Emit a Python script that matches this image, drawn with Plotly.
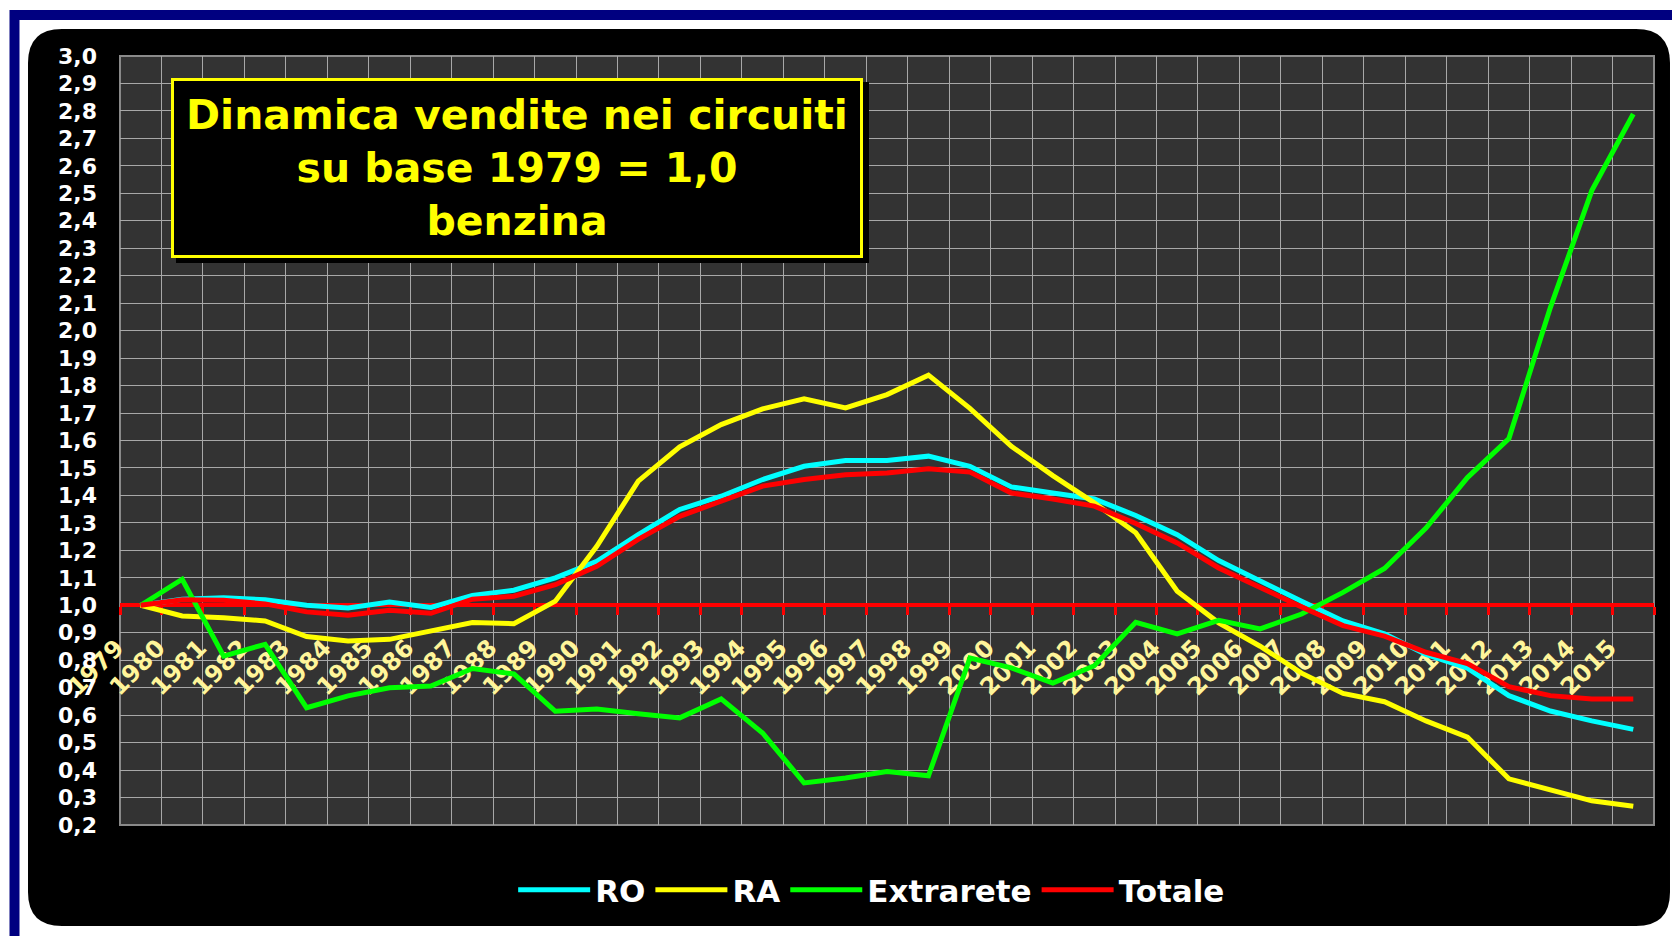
import plotly.graph_objects as go

anni = [str(a) for a in range(1979, 2016)]

ro = [1.00, 1.022, 1.027, 1.02, 1.00, 0.99, 1.012, 0.992, 1.036, 1.055,
      1.10, 1.16, 1.257, 1.349, 1.397, 1.458, 1.506, 1.527, 1.527, 1.543,
      1.506, 1.431, 1.409, 1.387, 1.327, 1.257, 1.163, 1.087, 1.015, 0.943,
      0.896, 0.821, 0.771, 0.671, 0.615, 0.579, 0.548]
ra = [1.00, 0.961, 0.955, 0.943, 0.886, 0.87, 0.876, 0.906, 0.937, 0.933,
      1.015, 1.215, 1.452, 1.577, 1.658, 1.715, 1.752, 1.719, 1.767, 1.838,
      1.717, 1.579, 1.472, 1.373, 1.264, 1.051, 0.936, 0.851, 0.753, 0.679,
      0.649, 0.579, 0.52, 0.368, 0.326, 0.288, 0.268]
extrarete = [1.00, 1.095, 0.815, 0.858, 0.627, 0.67, 0.70, 0.706, 0.77, 0.75,
             0.614, 0.622, 0.605, 0.59, 0.659, 0.535, 0.353, 0.371, 0.395, 0.379,
             0.808, 0.772, 0.717, 0.78, 0.938, 0.896, 0.945, 0.914, 0.968, 1.047,
             1.134, 1.281, 1.465, 1.607, 2.084, 2.51, 2.789]
totale = [1.00, 1.02, 1.018, 1.005, 0.976, 0.964, 0.982, 0.971, 1.022, 1.033,
          1.075, 1.142, 1.24, 1.324, 1.379, 1.434, 1.458, 1.475, 1.482, 1.497,
          1.485, 1.409, 1.387, 1.361, 1.298, 1.227, 1.136, 1.063, 0.994, 0.926,
          0.888, 0.829, 0.788, 0.704, 0.671, 0.659, 0.659]

serie = [("RO", ro, "#00ffff"), ("RA", ra, "#ffff00"),
         ("Extrarete", extrarete, "#00ff00"), ("Totale", totale, "#ff0000")]

W, H = 1672, 936
L, R, T, B = 120, 1654, 56, 825
ymin, ymax = 0.2, 3.0


def px(x):
    return (x - L) / (R - L)


def py(y):
    return (B - y) / (B - T)


def rounded(x0, y0, x1, y1, r):
    # rettangolo arrotondato in coordinate paper
    pts = [
        ("M", x0 + r, y0), ("L", x1 - r, y0), ("Q", x1, y0, x1, y0 + r),
        ("L", x1, y1 - r), ("Q", x1, y1, x1 - r, y1), ("L", x0 + r, y1),
        ("Q", x0, y1, x0, y1 - r), ("L", x0, y0 + r), ("Q", x0, y0, x0 + r, y0),
    ]
    s = ""
    for p in pts:
        nums = p[1:]
        coords = [f"{px(nums[i]):.5f},{py(nums[i + 1]):.5f}"
                  for i in range(0, len(nums), 2)]
        s += p[0] + " ".join(coords) + " "
    return s + "Z"


fig = go.Figure()
for nome, val, col in serie:
    fig.add_trace(go.Scatter(x=anni, y=val, name=nome, mode="lines",
                             line=dict(color=col, width=5)))

font = "DejaVu Sans, Verdana, sans-serif"
shapes = [
    # cornice blu
    dict(type="rect", xref="paper", yref="paper", layer="below",
         x0=px(14.5), y0=py(15), x1=px(1720), y1=py(990),
         line=dict(color="#000080", width=10), fillcolor="rgba(0,0,0,0)"),
    # pannello nero
    dict(type="path", xref="paper", yref="paper", layer="below",
         path=rounded(28, 29, 1670, 926, 34), fillcolor="#000000",
         line=dict(width=0)),
    # area del grafico
    dict(type="rect", xref="paper", yref="paper", layer="below",
         x0=0, y0=0, x1=1, y1=1, fillcolor="#333333",
         line=dict(color="#8a8a8a", width=2)),
    # ombra del riquadro titolo
    dict(type="rect", xref="paper", yref="paper", layer="above",
         x0=px(176), y0=py(263), x1=px(869), y1=py(82),
         fillcolor="#000000", line=dict(width=0)),
]

fig.update_layout(
    width=W, height=H,
    margin=dict(l=L, r=W - R, t=T, b=H - B),
    paper_bgcolor="#ffffff",
    plot_bgcolor="rgba(0,0,0,0)",
    separators=",.",
    shapes=shapes,
    showlegend=True,
    legend=dict(orientation="h", x=0.49, xanchor="center", y=py(890),
                yanchor="middle", bgcolor="rgba(0,0,0,0)", itemwidth=72,
                font=dict(family=font, size=31, color="#ffffff", weight="bold")),
    annotations=[dict(
        text="Dinamica vendite nei circuiti<br>su base 1979 = 1,0<br>benzina",
        xref="paper", yref="paper", x=px(517), y=py(167.5),
        xanchor="center", yanchor="middle", showarrow=False,
        width=682, height=170, align="center",
        bgcolor="#000000", bordercolor="#ffff00", borderwidth=3, borderpad=2,
        font=dict(family=font, size=41, color="#ffff00", weight="bold"),
    )],
)

fig.update_xaxes(
    type="category", range=[-0.5, len(anni) - 0.5],
    anchor="free", position=(1.0 - ymin) / (ymax - ymin),
    tickson="boundaries", showgrid=True, gridcolor="#a8a8a8", gridwidth=1.3,
    showline=True, linecolor="#ff0000", linewidth=4,
    ticks="outside", ticklen=8, tickwidth=3, tickcolor="#ff0000",
    tickangle=-45, layer="below traces",
    ticklabelstandoff=17, ticklabelshift=-24,
    tickfont=dict(family=font, size=24, color="#fff59a", weight="bold"),
)
fig.update_yaxes(
    range=[ymin, ymax], dtick=0.1, tick0=0, tickformat=".1f",
    showgrid=True, gridcolor="#a8a8a8", gridwidth=1.3, zeroline=False,
    ticks="", ticklabelstandoff=22,
    tickfont=dict(family=font, size=22, color="#ffffff", weight="bold"),
)

fig.write_html("out.html", config={"displayModeBar": False},
               post_script="document.body.style.margin='0px';")
